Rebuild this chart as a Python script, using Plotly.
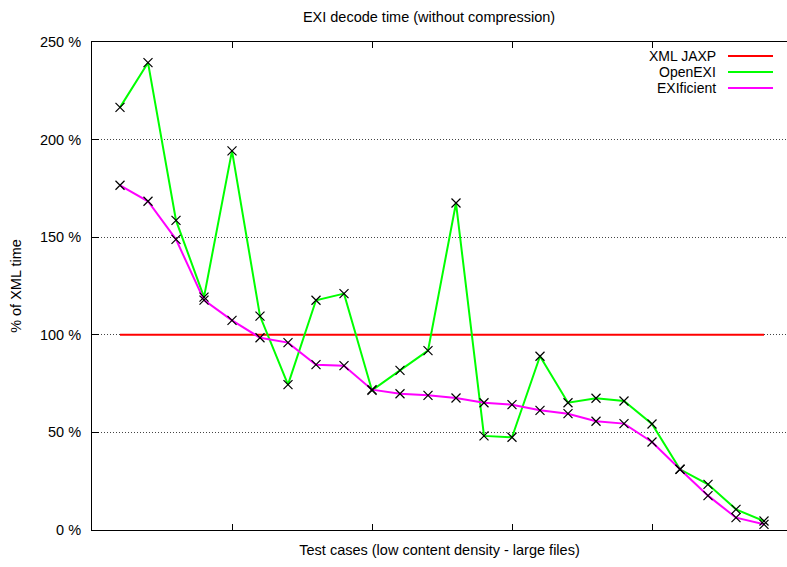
import plotly.graph_objects as go

# Test-case index along the x axis (no labels shown)
cases = list(range(1, 25))

# Decode time as percentage of the XML JAXP time
xml_jaxp = [100] * 24
open_exi = [216.5, 239.4, 158.6, 119.3, 194.2, 109.6, 74.5, 117.7, 121.1, 71.5,
            81.8, 91.9, 167.5, 48.2, 47.5, 89.0, 65.2, 67.5, 66.1, 54.3,
            31.1, 23.4, 10.6, 4.6]
exificient = [176.6, 168.4, 148.9, 117.8, 107.4, 98.5, 96.0, 84.7, 84.2, 71.9,
              69.8, 69.0, 67.6, 65.2, 64.2, 61.3, 59.6, 55.7, 54.5, 45.1,
              31.1, 17.6, 6.3, 2.9]

y_ticks = [0, 50, 100, 150, 200, 250]
y_tick_labels = ["0 %", "50 %", "100 %", "150 %", "200 %", "250 %"]
x_ticks = [5, 10, 15, 20]

series = [("XML JAXP", xml_jaxp, "#ff0000", False),
          ("OpenEXI", open_exi, "#00ff00", True),
          ("EXIficient", exificient, "#ff00ff", True)]

W, H = 787, 567
L, T, B, R = 92, 42, 37, 0
px_per_case = 28.0
plot_w = W - L - R

fig = go.Figure()

# lines first, then the crosses on top
for name, vals, color, _ in series:
    fig.add_trace(go.Scatter(x=cases, y=vals, mode="lines", name=name,
                             line=dict(color=color, width=2),
                             showlegend=False, hoverinfo="skip"))
for name, vals, color, marked in series:
    if marked:
        fig.add_trace(go.Scatter(x=cases, y=vals, mode="markers", name=name,
                                 marker=dict(symbol="x-thin", size=9, color="black",
                                             line=dict(color="black", width=1.2)),
                                 showlegend=False))

font = dict(family="Liberation Sans, Arial, sans-serif", size=14.5, color="#000000")
key_font = dict(family="Liberation Sans, Arial, sans-serif", size=14, color="#000000")

# key in the upper right: right-aligned text with a line sample
key_y0 = 56
for i, (name, vals, color, _) in enumerate(series):
    yy = 1 - (key_y0 + 16 * i - T) / (H - T - B)
    fig.add_annotation(text=name, xref="paper", yref="paper",
                       x=(717 - L) / plot_w, y=yy, xanchor="right", yanchor="middle",
                       showarrow=False, font=key_font, borderpad=0)
    fig.add_shape(type="line", xref="paper", yref="paper",
                  x0=(728 - L) / plot_w, x1=(773 - L) / plot_w, y0=yy, y1=yy,
                  line=dict(color=color, width=2))

fig.update_layout(
    width=W, height=H,
    margin=dict(l=L, r=R, t=T, b=B, pad=0),
    paper_bgcolor="white", plot_bgcolor="white",
    font=font,
    showlegend=False,
    title=dict(text="EXI decode time (without compression)", x=429 / W, xanchor="center",
               y=1 - 17 / H, yanchor="middle", font=font),
    xaxis=dict(range=[0, plot_w / px_per_case], tickvals=x_ticks, ticktext=[""] * 4,
               ticks="inside", ticklen=6, tickcolor="black", tickwidth=1,
               showline=True, linecolor="black", linewidth=1, mirror="ticks",
               showgrid=False, zeroline=False,
               title=dict(text="Test cases (low content density - large files)",
                          font=font, standoff=11)),
    yaxis=dict(range=[0, 250], tickvals=y_ticks, ticktext=y_tick_labels,
               ticks="inside", ticklen=7, tickcolor="black", tickwidth=1,
               showline=True, linecolor="black", linewidth=1, mirror=False,
               showgrid=True, gridcolor="#444444", gridwidth=1, griddash="1px,2px",
               zeroline=False, ticklabelstandoff=7,
               title=dict(text="% of XML time", font=font, standoff=14)),
)

fig.write_html("out.html")
